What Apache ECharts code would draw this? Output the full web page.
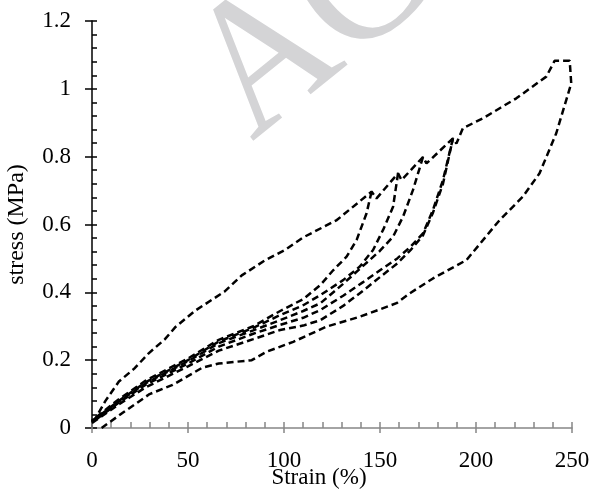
<!DOCTYPE html>
<html>
<head>
<meta charset="utf-8">
<script src="https://cdn.jsdelivr.net/npm/echarts@6/dist/echarts.min.js"></script>
<style>
html,body{margin:0;padding:0;background:#fff;}
#chart{width:593px;height:489px;}
</style>
</head>
<body>
<div id="chart"></div>
<script>
// ---- data (strain %, stress MPa) ----
var xTicks = [0, 50, 100, 150, 200, 250];
var yTicks = [0, 0.2, 0.4, 0.6, 0.8, 1, 1.2];

// outer loop: upper envelope with kinks at each peak, then big unloading branch back to origin
var outerLoop = [
  [0,0.02],[2,0.03],[7,0.08],[14,0.137],[22,0.175],[29.5,0.22],[38,0.262],[43.5,0.298],
  [54,0.347],[69,0.402],[78,0.45],[90,0.494],[100.5,0.525],[110,0.562],[127.5,0.613],
  [145.6,0.697],[148.2,0.677],[159.4,0.751],[161.2,0.731],[172.4,0.799],[174.2,0.78],
  [188,0.854],[189.8,0.839],[193.2,0.884],[203.6,0.913],[213,0.945],[221,0.972],
  [236.6,1.036],[241,1.083],[248.8,1.083],[249.6,1.016],
  [247,0.967],[241.8,0.869],[233.1,0.751],[224.4,0.682],[212.3,0.613],[195,0.495],
  [177.6,0.441],[165.5,0.397],[158.6,0.368],[139.5,0.328],[122.2,0.299],[104.8,0.254],
  [100.5,0.245],[91,0.225],[83.2,0.2],[66,0.19],[57.5,0.178],[49,0.15],[42,0.127],
  [30,0.1],[16,0.045],[5,0]
];
var cycle1 = [
  [145.6,0.697],[143,0.633],[137.8,0.554],[132.6,0.505],[125.6,0.465],[119,0.422],
  [110,0.38],[98,0.345],[84,0.3],[66,0.26],[50,0.205],[28,0.14],[14,0.085],[0,0.022]
];
var cycle2 = [
  [159.4,0.751],[156.8,0.652],[151.6,0.584],[146.4,0.525],[139.5,0.476],[130.8,0.436],
  [119,0.392],[110,0.362],[98,0.333],[84,0.295],[66,0.255],[50,0.2],[28,0.135],[14,0.08],[0,0.02]
];
var cycle3 = [
  [172.4,0.799],[167.2,0.702],[162,0.623],[156.8,0.564],[149.9,0.522],[141.2,0.478],
  [130.8,0.425],[119,0.368],[110,0.345],[98,0.318],[84,0.288],[66,0.25],[50,0.197],
  [28,0.132],[14,0.078],[0,0.018]
];
var cycle4 = [
  [188,0.854],[182.8,0.731],[177.6,0.643],[172.4,0.574],[166,0.535],[159,0.5],[150,0.465],
  [141.2,0.43],[130.8,0.39],[119,0.348],[110,0.325],[98,0.304],[84,0.278],[66,0.24],
  [50,0.19],[28,0.128],[14,0.075],[0,0.016]
];
var cycle5 = [
  [0,0.015],[14,0.07],[28,0.12],[50,0.182],[66,0.228],[84,0.262],[98,0.289],[110,0.302],
  [119,0.318],[130.8,0.36],[141.2,0.405],[150,0.445],[159,0.485],[166,0.525],[172.4,0.568],
  [177.6,0.635],[182.8,0.72],[188,0.854]
];
var curves = [outerLoop, cycle1, cycle2, cycle3, cycle4, cycle5];

// ---- chart ----
var GRID = {left: 92, right: 21, top: 21, bottom: 61, outerBoundsMode: 'none', containLabel: false};
var W = 593, H = 489;
var gridW = W - GRID.left - GRID.right;
var gridH = H - GRID.top - GRID.bottom;
var FONT = 'Liberation Serif';
var GREY = '#878787';

var chart = echarts.init(document.getElementById('chart'), null, {renderer: 'canvas'});

var series = curves.map(function (c) {
  return {
    type: 'line',
    data: c,
    xAxisIndex: 0, yAxisIndex: 0,
    showSymbol: false,
    symbol: 'none',
    smooth: false,
    silent: true,
    z: 3,
    lineStyle: {color: '#000', width: 2.5, type: [7, 4]}
  };
});

var option = {
  animation: false,
  backgroundColor: '#fff',
  grid: GRID,
  graphic: [{
    type: 'group',
    x: 261, y: 153,
    rotation: 0.68,
    scaleX: 1, scaleY: 1.12,
    z: 0,
    silent: true,
    children: [{
      type: 'text',
      x: 0, y: -58,
      style: {
        text: 'ACCEPTED MANUSCRIPT',
        font: '172px Liberation Serif',
        fill: '#d4d4d6',
        align: 'left',
        verticalAlign: 'middle'
      }
    }]
  }],
  xAxis: [{
    type: 'value', position: 'bottom',
    min: xTicks[0], max: xTicks[xTicks.length - 1], interval: xTicks[1] - xTicks[0],
    axisLine: {show: true, onZero: false, lineStyle: {color: GREY, width: 1.5}},
    axisTick: {show: true, inside: false, length: 5, lineStyle: {color: GREY, width: 1.5}},
    minorTick: {show: false},
    splitLine: {show: false},
    axisLabel: {color: '#000', fontFamily: FONT, fontSize: 23, margin: 21},
    name: 'Strain (%)', nameLocation: 'middle', nameGap: 38, nameMoveOverlap: false,
    nameTextStyle: {color: '#000', fontFamily: FONT, fontSize: 23, padding: [0, 26, 0, 0]}
  }, {
    type: 'value', position: 'top', offset: -gridH,
    min: xTicks[0], max: xTicks[xTicks.length - 1], interval: xTicks[1] - xTicks[0],
    axisLine: {show: false, onZero: false},
    axisTick: {show: true, inside: false, length: 6, lineStyle: {color: GREY, width: 1.5}},
    minorTick: {show: true, splitNumber: 5, length: 6, lineStyle: {color: GREY, width: 1.5}},
    splitLine: {show: false},
    axisLabel: {show: false}
  }],
  yAxis: [{
    type: 'value', position: 'left',
    min: yTicks[0], max: yTicks[yTicks.length - 1], interval: yTicks[1] - yTicks[0],
    axisLine: {show: true, onZero: false, lineStyle: {color: '#000', width: 1.5}},
    axisTick: {show: true, inside: false, length: 7, lineStyle: {color: '#000', width: 1.5}},
    minorTick: {show: false},
    splitLine: {show: false},
    axisLabel: {color: '#000', fontFamily: FONT, fontSize: 23, margin: 21},
    name: 'stress (MPa)', nameLocation: 'middle', nameRotate: 90, nameGap: 63, nameMoveOverlap: false,
    nameTextStyle: {color: '#000', fontFamily: FONT, fontSize: 24}
  }, {
    type: 'value', position: 'right', offset: -gridW,
    min: yTicks[0], max: yTicks[yTicks.length - 1], interval: yTicks[1] - yTicks[0],
    axisLine: {show: false, onZero: false},
    axisTick: {show: true, inside: false, length: 5, lineStyle: {color: '#000', width: 1.5}},
    minorTick: {show: true, splitNumber: 5, length: 5, lineStyle: {color: '#000', width: 1.5}},
    splitLine: {show: false},
    axisLabel: {show: false}
  }],
  series: series
};
chart.setOption(option);
</script>
</body>
</html>
